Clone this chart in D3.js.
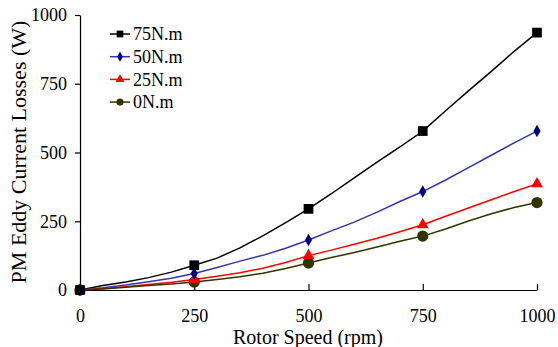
<!DOCTYPE html>
<html>
<head>
<meta charset="utf-8">
<script src="https://cdn.jsdelivr.net/npm/d3@7"></script>
<style>
  body { margin: 0; background: #fff; }
  svg text { font-family: "Liberation Serif", "DejaVu Serif", serif; fill: #000; }
</style>
</head>
<body>
<svg id="chart" width="558" height="347"></svg>
<script>
const rpm = [0, 50, 100, 150, 200, 250, 300, 350, 400, 450, 500, 550, 600, 650, 700, 750, 800, 850, 900, 950, 1000];
const load75 = [0, 16, 29, 45, 65, 90, 116, 153, 197, 245, 295, 350, 408, 465, 520, 578, 652, 724, 795, 868, 936];
const load50 = [0, 8, 18, 30, 43, 60, 82, 105, 126, 152, 182, 215, 247, 283, 322, 358, 400, 445, 490, 535, 578];
const load25 = [0, 5, 12, 20, 28, 38, 50, 63, 79, 100, 125, 145, 166, 188, 212, 237, 268, 298, 328, 358, 386];
const load0 = [0, 4, 10, 16, 22, 29, 38, 48, 61, 78, 98, 118, 136, 156, 177, 196, 222, 251, 277, 300, 318];
const markerRpm = [0, 250, 500, 750, 1000];
const tickValues = [0, 250, 500, 750, 1000];

const series = [
  { name: "75N.m", values: load75, line: "#000000", fill: "#000000", shape: d3.symbolSquare, size: 95, legendSize: 45 },
  { name: "50N.m", values: load50, line: "#3535a5", fill: "#000080", shape: d3.symbolDiamond, size: 45, legendSize: 30 },
  { name: "25N.m", values: load25, line: "#ff0000", fill: "#ff0000", shape: d3.symbolTriangle, size: 60, legendSize: 35 },
  { name: "0N.m", values: load0, line: "#333300", fill: "#333300", shape: d3.symbolCircle, size: 100, legendSize: 40 }
];

const svg = d3.select("#chart");

const x = d3.scaleLinear().domain([0, 1000]).range([80, 537]);
const y = d3.scaleLinear().domain([0, 1000]).range([290, 15]);

// axes
const yAxis = svg.append("g")
  .attr("transform", "translate(80,0)")
  .call(d3.axisLeft(y).tickValues(tickValues).tickFormat(d3.format("d"))
    .tickSize(5).tickSizeOuter(0).tickPadding(8));

const xAxis = svg.append("g")
  .attr("transform", "translate(0,290)")
  .call(d3.axisBottom(x).tickValues(tickValues).tickFormat(d3.format("d"))
    .tickSizeInner(-6).tickSizeOuter(0).tickPadding(19));

[xAxis, yAxis].forEach(ax => {
  ax.attr("font-family", null).attr("font-size", null);
  ax.selectAll("text").style("font-size", "18px");
  ax.selectAll("line, path").attr("stroke", "#000").attr("stroke-width", 1.2);
});

// axis titles
svg.append("text")
  .attr("x", 308)
  .attr("y", 344)
  .attr("text-anchor", "middle")
  .style("font-size", "20px")
  .text("Rotor Speed (rpm)");

svg.append("text")
  .attr("transform", "translate(26,152) rotate(-90)")
  .attr("text-anchor", "middle")
  .style("font-size", "22px")
  .text("PM Eddy Current Losses (W)");

// lines
const line = d3.line()
  .x((d, i) => x(rpm[i]))
  .y(d => y(d));

series.forEach(s => {
  svg.append("path")
    .datum(s.values)
    .attr("fill", "none")
    .attr("stroke", s.line)
    .attr("stroke-width", 1.5)
    .attr("d", line);
});

// markers
series.slice().reverse().forEach(s => {
  const pts = rpm.map((r, i) => ({ r: r, v: s.values[i] }))
    .filter(p => markerRpm.includes(p.r));
  svg.selectAll(null)
    .data(pts)
    .enter()
    .append("path")
    .attr("transform", p => `translate(${x(p.r)},${y(p.v)})`)
    .attr("d", d3.symbol().type(s.shape).size(s.size))
    .attr("fill", s.fill);
});

// legend
const legend = svg.append("g").attr("transform", "translate(110,34)");
series.forEach((s, i) => {
  const row = legend.append("g").attr("transform", `translate(0,${i * 22.7})`);
  row.append("line")
    .attr("x1", 0).attr("x2", 20)
    .attr("stroke", s.line)
    .attr("stroke-width", 1.5);
  row.append("path")
    .attr("transform", "translate(10,0)")
    .attr("d", d3.symbol().type(s.shape).size(s.legendSize))
    .attr("fill", s.fill);
  row.append("text")
    .attr("x", 23)
    .attr("y", 0)
    .attr("dy", "0.35em")
    .style("font-size", "18px")
    .text(s.name);
});
</script>
</body>
</html>
